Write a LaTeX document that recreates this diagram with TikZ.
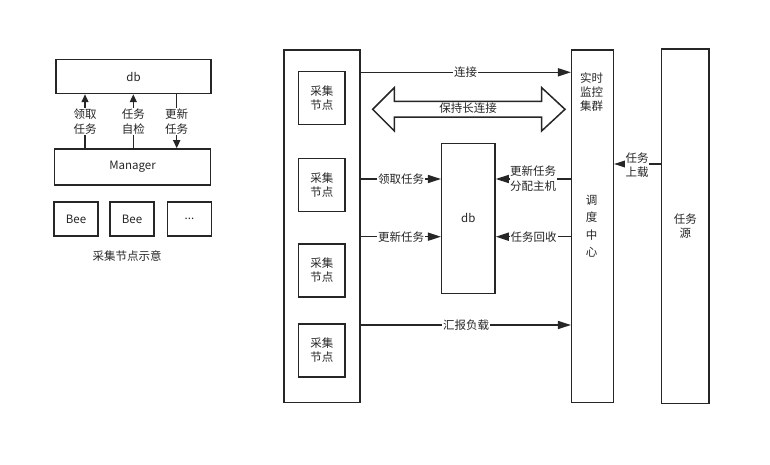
\documentclass[tikz,border=0pt]{standalone}
\usepackage{fontspec}
\setmainfont{Noto Sans CJK SC}
\usetikzlibrary{arrows.meta}
\begin{document}
\begin{tikzpicture}[x=1pt,y=-1pt,
  every node/.style={font=\fontsize{11.5}{14.5}\selectfont, text=black!85},
  box/.style={draw=black!85, line width=1.5pt, inner sep=0pt, align=center},
  lbl/.style={fill=white, inner sep=1pt, align=center},
  conn/.style={draw=black!85, line width=1.5pt},
  arrS/.style={conn, -{Triangle[length=8pt,width=7pt]}},
  arrL/.style={conn, -{Triangle[length=13pt,width=8pt]}}
]
\useasboundingbox (0,0) rectangle (770,465);

% ---------- left: node sketch ----------
\node[box, minimum width=155pt, minimum height=34pt] (ldb) at (133.5,76.5) {db};
\node[box, minimum width=156pt, minimum height=36pt] (mgr) at (132.5,167) {Manager};
\node[box, minimum width=44pt, minimum height=34pt] (bee1) at (76,219) {Bee};
\node[box, minimum width=44pt, minimum height=34pt] (bee2) at (132,219) {Bee};
\node[box, minimum width=44pt, minimum height=34pt] (bee3) at (189.5,219) {...};
\node (cap) at (127,256) {采集节点示意};

\draw[arrS] ([xshift=-47.5pt]mgr.north) -- ([xshift=-48.5pt]ldb.south);
\node[lbl] (l1) at (85,121.5) {领取\\任务};
\draw[arrS] ([xshift=0.8pt]mgr.north) -- ([xshift=-0.2pt]ldb.south);
\node[lbl] (l2) at (133.3,121.5) {任务\\自检};
\draw[arrS] ([xshift=43.2pt]ldb.south) -- ([xshift=44.2pt]mgr.north);
\node[lbl] (l3) at (176.7,121.5) {更新\\任务};

% ---------- right ----------
\node[box, minimum width=76pt, minimum height=352.5pt] (big) at (322,226.25) {};
\node[box, minimum width=46.5pt, minimum height=53pt] (c1) at (321.75,98) {采集\\节点};
\node[box, minimum width=46.5pt, minimum height=53pt] (c2) at (321.75,185) {采集\\节点};
\node[box, minimum width=46.5pt, minimum height=53pt] (c3) at (321.75,270.3) {采集\\节点};
\node[box, minimum width=46.5pt, minimum height=53pt] (c4) at (321.75,350.3) {采集\\节点};

\node[box, minimum width=53.3pt, minimum height=150pt] (db) at (468.35,218.3) {db};
\node[box, minimum width=41.6pt, minimum height=352.7pt] (ctr) at (592.5,226.35) {};
\node[align=center, font=\fontsize{11.5}{14}\selectfont] (mon) at (591.5,92.5) {实时\\监控\\集群};
\node[align=center, font=\fontsize{11.5}{17.5}\selectfont] (sch) at (591.5,226) {调\\度\\中\\心};
\node[box, minimum width=47.3pt, minimum height=354.3pt] (src) at (685.35,226.15) {任务\\源};

% connect
\coordinate (y1) at (0,72.3);
\draw[arrL] (big.east |- y1) -- (ctr.west |- y1);
\node[lbl] at (465.5,72.3) {连接};

% double arrow
\draw[draw=black!85, line width=1.5pt, fill=white]
  (372.7,109.3) -- (394.3,87.7) -- (394.3,101.5) -- (541.7,101.5) -- (541.7,87.7)
  -- (565,109.3) -- (541.7,130.9) -- (541.7,117.1) -- (394.3,117.1) -- (394.3,130.9) -- cycle;
\node[inner sep=0pt] (keep) at (468,108.5) {保持长连接};

\coordinate (y2) at (0,179);
\coordinate (y3) at (0,236.7);
\draw[arrL] (big.east |- y2) -- (db.west |- y2);
\node[lbl] at (401,179) {领取任务};
\draw[arrL] (big.east |- y3) -- (db.west |- y3);
\node[lbl] at (401,236.7) {更新任务};
\draw[arrL] (ctr.west |- y2) -- (db.east |- y2);
\node[lbl, inner sep=0.5pt] at (533,178.5) {更新任务\\分配主机};
\draw[arrL] (ctr.west |- y3) -- (db.east |- y3);
\node[lbl] at (533.5,236.7) {任务回收};

\coordinate (y4) at (0,325);
\draw[arrL] (big.east |- y4) -- (ctr.west |- y4);
\node[lbl] at (466,325) {汇报负载};

\coordinate (y5) at (0,164);
\draw[arrL] (src.west |- y5) -- (ctr.east |- y5);
\node[lbl, inner sep=0.5pt] at (637,165) {任务\\上载};
\end{tikzpicture}
\end{document}
